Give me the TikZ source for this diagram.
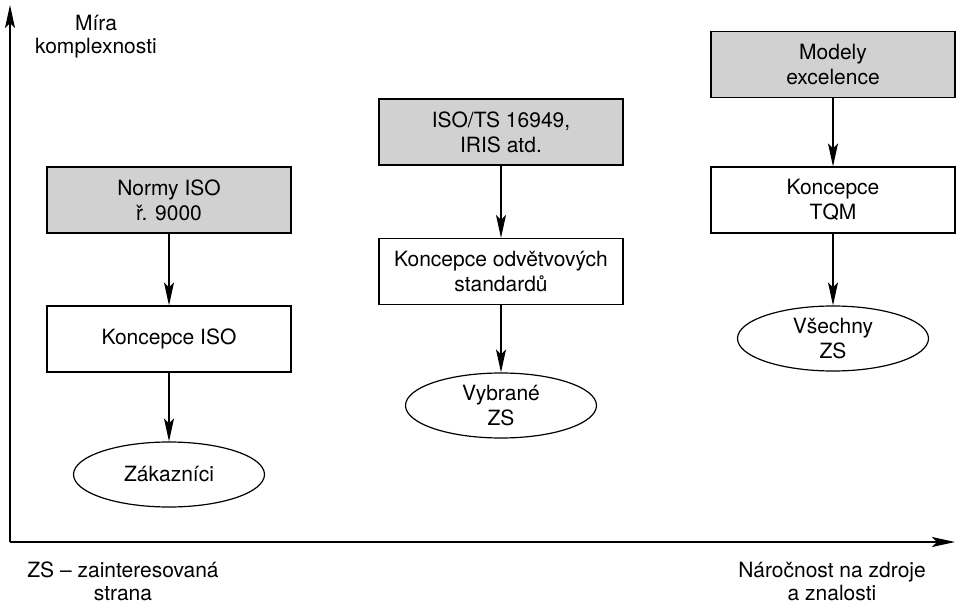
\documentclass[tikz,border=0pt]{standalone}
\usepackage{fontspec}
\setmainfont{TeX Gyre Heros}
\usetikzlibrary{arrows.meta,shapes.geometric}
\definecolor{normgray}{gray}{0.82}
\begin{document}
\begin{tikzpicture}[x=.5pt,y=-.5pt,line width=.6pt,
    font=\fontsize{10.5}{12.5}\selectfont,
    >={Stealth[length=11.5pt,width=5pt,inset=2.5pt]},
    norm/.style={draw,fill=normgray,minimum width=122pt,minimum height=33pt,
      inner sep=0pt,align=center},
    concept/.style={draw,minimum width=122pt,minimum height=33pt,
      inner sep=0pt,align=center},
    party/.style={draw,ellipse,minimum width=95.5pt,minimum height=32.5pt,
      inner sep=0pt,align=center},
    axislabel/.style={align=center,inner sep=0pt,
      font=\fontsize{10.5}{11.5}\selectfont}]
  \useasboundingbox (0,0) rectangle (958,604);
  % axes
  \coordinate (o) at (10,542);
  \coordinate (ytop) at (10,5);
  \coordinate (xend) at (955,542);
  \draw[->] (o) -- (ytop);
  \draw[->] (o) -- (xend);
  \node[axislabel] (ylab) at (96,37) {Míra\\komplexnosti};
  \node[axislabel,anchor=south] (xlab) at (832,601) {Náročnost na zdroje\\a znalosti};
  \node[axislabel,anchor=south] (note) at (123,601) {ZS -- zainteresovaná\\strana};
  % ISO
  \node[norm] (isonorm) at (169,200) {Normy ISO\\ř. 9000};
  \node[concept] (isocon) at (169,339) {Koncepce ISO};
  \node[party] (zak) at (169,474.5) {Zákazníci};
  % sector standards
  \node[norm] (secnorm) at (501,132) {ISO/TS 16949,\\IRIS atd.};
  \node[concept] (seccon) at (501,271.5) {Koncepce odvětvových\\standardů};
  \node[party] (vyb) at (501,405.5) {Vybrané\\ZS};
  % excellence
  \node[norm] (exnorm) at (833,64.5) {Modely\\excelence};
  \node[concept] (tqm) at (833,200) {Koncepce\\TQM};
  \node[party] (vse) at (833,338.5) {Všechny\\ZS};
  \draw[->] (isonorm) -- (isocon);
  \draw[->] (isocon) -- (zak);
  \draw[->] (secnorm) -- (seccon);
  \draw[->] (seccon) -- (vyb);
  \draw[->] (exnorm) -- (tqm);
  \draw[->] (tqm) -- (vse);
\end{tikzpicture}
\end{document}
